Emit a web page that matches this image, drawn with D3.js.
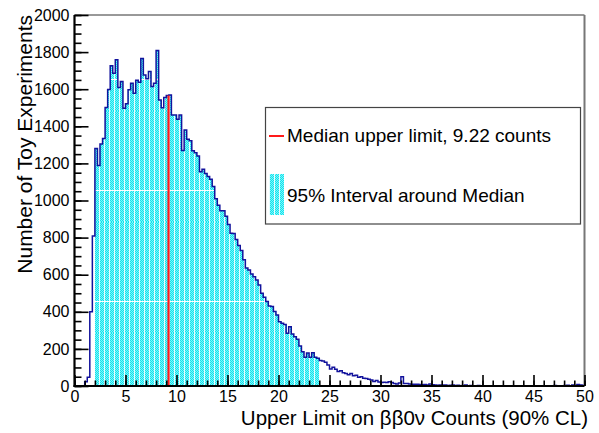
<!DOCTYPE html>
<html><head><meta charset="utf-8">
<script src="https://cdn.jsdelivr.net/npm/d3@7"></script>
<style>
body{margin:0;background:#fff}
text{font-family:"Liberation Sans",Arial,Helvetica,sans-serif;fill:#000}
</style>
</head><body>
<svg id="c" width="599" height="433"></svg>
<script>
// ---- data ----
const binWidth = 0.25;
const binStart = 0;
const counts = [
  0,0,0,2,23,47,400,809,
  1281,1189,1304,1334,1501,1598,1726,1686,
  1759,1609,1642,1497,1521,1597,1632,1578,
  1648,1637,1766,1676,1656,1695,1615,1632,
  1809,1542,1500,1555,1566,1569,1461,1461,
  1438,1461,1269,1380,1330,1322,1268,1258,
  1240,1155,1168,1146,1130,1115,1075,1010,
  975,945,945,915,870,823,822,790,
  758,730,680,636,625,604,589,571,
  544,500,478,455,431,428,401,383,
  347,338,332,284,320,280,266,252,
  215,185,155,178,155,179,155,150,
  138,135,128,113,92,101,90,78,
  82,72,68,60,68,55,58,47,
  50,42,41,36,32,24,29,22,
  19,20,19,23,19,14,11,16,
  50,14,14,11,10,10,9,8,
  7,8,5,11,7,6,4,5,
  5,6,3,4,5,3,4,2,
  3,5,2,3,2,1,3,2,
  1,2,1,1,2,1,0,1,
  1,2,0,1,1,0,1,0,
  1,0,1,0,0,1,0,1,
  2,1,0,1,3,1,2,1,
  3,4,2,5,3,8,6,4
];
const medianValue = 9.22;
const intervalLow = 2.0;
const intervalHigh = 24.0;
const xDomain = [0, 50];
const yDomain = [0, 2000];
const xMajorTicks = [0,5,10,15,20,25,30,35,40,45,50];
const yMajorTicks = [0,200,400,600,800,1000,1200,1400,1600,1800,2000];
const xTitle = "Upper Limit on \u03b2\u03b20\u03bd Counts (90% CL)";
const yTitle = "Number of Toy Experiments";
const legendLabels = ["Median upper limit, 9.22 counts", "95% Interval around Median"];

// ---- drawing ----
(function(){
const svg = d3.select("#c");
const pL = 74.5, pR = 584.5, pT = 15, pB = 386;
const x = d3.scaleLinear().domain(xDomain).range([pL, pR]);
const y = d3.scaleLinear().domain(yDomain).range([pB, pT]);

const bins = counts.map((c, i) => ({lo: binStart + i*binWidth, hi: binStart + (i+1)*binWidth, c}));

// patterns
const defs = svg.append("defs");
const chk = defs.append("pattern").attr("id","chk").attr("patternUnits","userSpaceOnUse")
  .attr("width",5).attr("height",2);
chk.append("rect").attr("width",5).attr("height",2).attr("fill","#0ae6f0");
[[0,0],[2,0],[1,1],[3,1]].forEach(([a,b]) => chk.append("rect").attr("x",a).attr("y",b).attr("width",1).attr("height",1).attr("fill","#86f2f6"));
chk.append("rect").attr("x",4).attr("y",0).attr("width",1).attr("height",2).attr("fill","#e8fdfe");
const fp = defs.append("pattern").attr("id","fillp").attr("patternUnits","userSpaceOnUse")
  .attr("width",5).attr("height",111);
fp.append("rect").attr("width",5).attr("height",111).attr("fill","url(#chk)");
fp.append("rect").attr("y",79).attr("width",5).attr("height",1).attr("fill","#ffffff");

// filled interval
const inBins = bins.filter(b => b.lo >= intervalLow - 1e-9 && b.hi <= intervalHigh + 1e-9);
let fillPts = [[x(inBins[0].lo), y(0)]];
inBins.forEach(b => { fillPts.push([x(b.lo), y(b.c)]); fillPts.push([x(b.hi), y(b.c)]); });
fillPts.push([x(inBins[inBins.length-1].hi), y(0)]);
svg.append("path").attr("d", d3.line()(fillPts)).attr("fill","url(#fillp)").attr("stroke","none");

// histogram outline
let pts = [[x(bins[0].lo), y(0)]];
bins.forEach(b => { pts.push([x(b.lo), y(b.c)]); pts.push([x(b.hi), y(b.c)]); });
svg.append("path").attr("d", d3.line()(pts)).attr("fill","none")
  .attr("stroke","#12129c").attr("stroke-width",1.5).attr("stroke-linejoin","miter");

// median line
const medBin = bins[Math.floor((medianValue - binStart)/binWidth)];
svg.append("line").attr("x1", x(medianValue)).attr("x2", x(medianValue))
  .attr("y1", y(0)).attr("y2", y(medBin.c)).attr("stroke","#ff1a1a").attr("stroke-width",2.2);

// frame
svg.append("line").attr("x1",pL).attr("x2",pR).attr("y1",pT).attr("y2",pT).attr("stroke","#333").attr("stroke-width",1);
svg.append("line").attr("x1",pR).attr("x2",pR).attr("y1",pT).attr("y2",pB).attr("stroke","#777").attr("stroke-width",2);

// axes
function styleAxis(g){ g.select(".domain").remove(); g.selectAll("line").attr("stroke","#000").attr("stroke-width",1.6); }
const yMinor = d3.range(yDomain[0], yDomain[1] + 1, 50);
svg.append("g").attr("transform",`translate(${pL},0)`)
  .call(d3.axisLeft(y).tickValues(yMinor).tickSize(-7).tickFormat(""))
  .call(styleAxis);
svg.append("g").attr("transform",`translate(${pL},0)`)
  .call(d3.axisLeft(y).tickValues(yMajorTicks).tickSize(-14).tickPadding(5).tickFormat(d3.format("d")))
  .call(styleAxis)
  .call(g => g.selectAll("text").attr("font-size",16).attr("fill","#000"));
const xMinor = d3.range(xDomain[0], xDomain[1] + 1, 1);
svg.append("g").attr("transform",`translate(0,${pB})`)
  .call(d3.axisBottom(x).tickValues(xMinor).tickSize(-5.5).tickFormat(""))
  .call(styleAxis);
svg.append("g").attr("transform",`translate(0,${pB})`)
  .call(d3.axisBottom(x).tickValues(xMajorTicks).tickSize(-11).tickPadding(5).tickFormat(d3.format("d")))
  .call(styleAxis)
  .call(g => g.selectAll("text").attr("font-size",16).attr("fill","#000"));
// axis lines
svg.append("line").attr("x1",pL).attr("x2",pL).attr("y1",pT).attr("y2",pB+1).attr("stroke","#000").attr("stroke-width",2.2);
svg.append("line").attr("x1",pL-1).attr("x2",pR).attr("y1",pB).attr("y2",pB).attr("stroke","#000").attr("stroke-width",2.2);

// titles
svg.append("text").attr("x", 588).attr("y", 425).attr("text-anchor","end").attr("font-size",20.5).text(xTitle);
svg.append("text").attr("transform","translate(32,15) rotate(-90)").attr("text-anchor","end").attr("font-size",21).text(yTitle);

// legend
const lg = svg.append("g");
lg.append("rect").attr("x",265.5).attr("y",107.5).attr("width",315).attr("height",116.5)
  .attr("fill","#fff").attr("stroke","#444").attr("stroke-width",1.2);
lg.append("line").attr("x1",269).attr("x2",284).attr("y1",136).attr("y2",136).attr("stroke","#ff1a1a").attr("stroke-width",2);
lg.append("text").attr("x",287).attr("y",142).attr("font-size",19).text(legendLabels[0]);
lg.append("rect").attr("x",269).attr("y",174).attr("width",15).attr("height",41).attr("fill","url(#chk)");
lg.append("text").attr("x",287).attr("y",202).attr("font-size",19).text(legendLabels[1]);
})();
</script>
</body></html>
